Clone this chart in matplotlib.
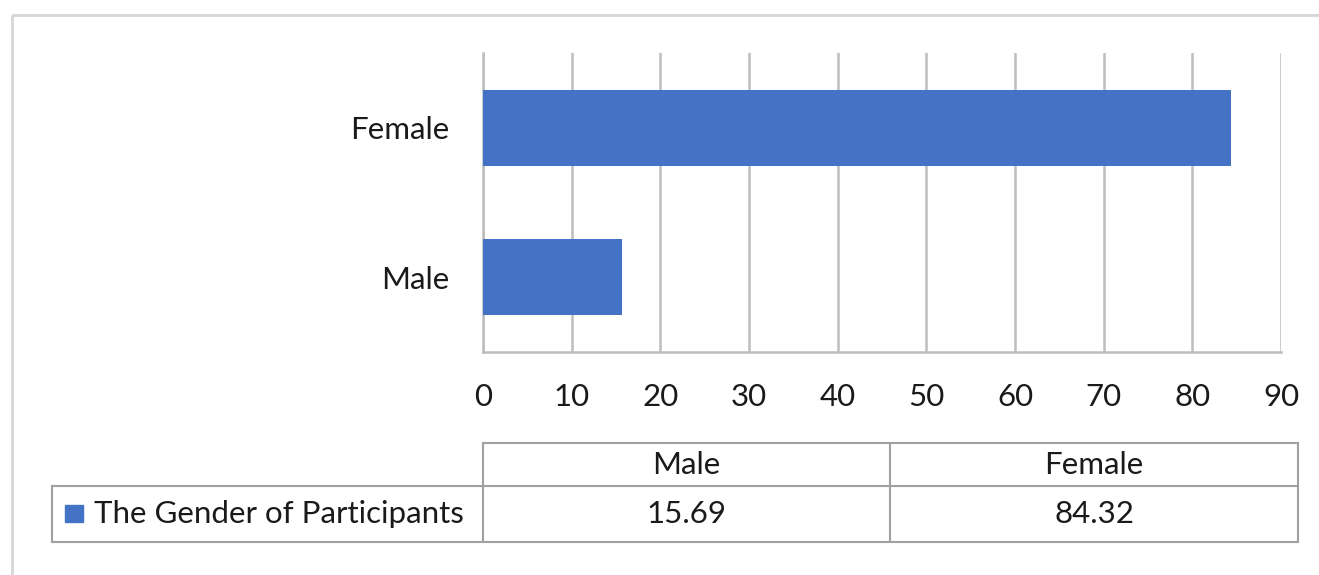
import matplotlib.pyplot as plt
from matplotlib.patches import Rectangle

# data
categories = ['Male', 'Female']
values = [15.69, 84.32]
series_name = 'The Gender of Participants'
x_ticks = [0, 10, 20, 30, 40, 50, 60, 70, 80, 90]

W, H = 1319, 575
bar_color = '#4472C4'
grid_color = '#BDBDBD'
line_color = '#A0A0A0'
text_color = '#1a1a1a'
font = 'Lato'
fs = 22.5

fig = plt.figure(figsize=(W / 100, H / 100), dpi=100)

# full-figure overlay in pixel coords for frame and table
over = fig.add_axes([0, 0, 1, 1])
over.set_xlim(0, W)
over.set_ylim(H, 0)
over.axis('off')

# chart border
over.add_patch(Rectangle((12, 15), W, H, fill=False, edgecolor='#D6D6D6', linewidth=2))

# main bar axes
left, right, top, bottom = 483, 1281, 53, 352
ax = fig.add_axes([left / W, 1 - bottom / H, (right - left) / W, (bottom - top) / H])
ax.barh(range(len(categories)), values, height=0.51, color=bar_color, zorder=3)
ax.set_xlim(0, 90)
ax.set_ylim(-0.5, 1.5)
ax.set_xticks(x_ticks)
ax.set_yticks(range(len(categories)))
ax.set_yticklabels(categories, fontsize=fs, family=font, color=text_color)
ax.set_xticklabels([str(t) for t in x_ticks], fontsize=fs, family=font, color=text_color)
ax.tick_params(axis='both', length=0)
ax.tick_params(axis='y', pad=24)
ax.tick_params(axis='x', pad=22)
ax.grid(axis='x', color=grid_color, linewidth=1.8, zorder=0)
for s in ['top', 'right']:
    ax.spines[s].set_visible(False)
ax.spines['left'].set_color(grid_color)
ax.spines['left'].set_linewidth(1.8)
ax.spines['bottom'].set_color(grid_color)
ax.spines['bottom'].set_linewidth(1.8)
ax.set_facecolor('none')

# data table below
col_x = [483, 890, 1298]
row_y = [443, 486, 542]
tbl_left = 52
lw = 1.5
over.plot([col_x[0], col_x[-1]], [row_y[0], row_y[0]], color=line_color, lw=lw)
over.plot([tbl_left, col_x[-1]], [row_y[1], row_y[1]], color=line_color, lw=lw)
over.plot([tbl_left, col_x[-1]], [row_y[2], row_y[2]], color=line_color, lw=lw)
over.plot([tbl_left, tbl_left], [row_y[1], row_y[2]], color=line_color, lw=lw)
for cx in col_x:
    over.plot([cx, cx], [row_y[0], row_y[2]], color=line_color, lw=lw)

for i, (cat, val) in enumerate(zip(categories, values)):
    cx = (col_x[i] + col_x[i + 1]) / 2
    over.text(cx, (row_y[0] + row_y[1]) / 2, cat, ha='center', va='center',
              fontsize=fs, family=font, color=text_color)
    over.text(cx, (row_y[1] + row_y[2]) / 2, f'{val:.2f}', ha='center', va='center',
              fontsize=fs, family=font, color=text_color)

over.add_patch(Rectangle((65, 505), 18, 17, color=bar_color))
over.text(94, (row_y[1] + row_y[2]) / 2, series_name, ha='left', va='center',
          fontsize=fs, family=font, color=text_color)

fig.savefig('out.png', dpi=100)
